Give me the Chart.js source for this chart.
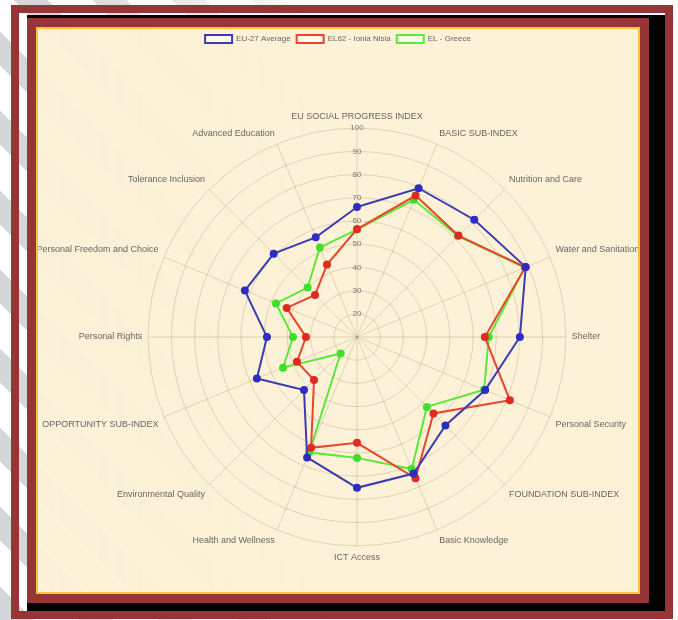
<!DOCTYPE html>
<html>
<head>
<meta charset="utf-8">
<script src="https://cdn.jsdelivr.net/npm/chart.js@4.4.1/dist/chart.umd.min.js"></script>
<style>
  body { margin: 0; width: 678px; height: 620px; background: #fff; position: relative; overflow: hidden; font-family: Arial, "Liberation Sans", sans-serif; }
  .stripes { position: absolute; left: 0; top: 0; width: 678px; height: 620px;
    background: repeating-linear-gradient(45deg, #d6d6da 0 24px, transparent 24px 56px);
    -webkit-mask-image: linear-gradient(to right, #000 0, #000 8%, transparent 50%);
    mask-image: linear-gradient(to right, #000 0, #000 8%, transparent 50%); }
  .inner .stripes { left: -38px; top: -29px; opacity: 0.06; }
  .outer { position: absolute; left: 11px; top: 5px; width: 646px; height: 598px; border: 8px solid #953535; }
  .shadow { position: absolute; left: 27px; top: 15px; width: 638px; height: 596px; background: #000; }
  .panel { position: absolute; left: 27px; top: 18px; width: 604px; height: 567px; border: 9px solid #953535; }
  .inner { position: absolute; left: 0; top: 0; width: 600px; height: 563px; border: 2px solid #f9c53a; background: #fdf2d7; overflow: hidden; }
  #wrap { position: absolute; left: -21px; top: 0; width: 642px; height: 563px; }
</style>
</head>
<body>
<div class="stripes"></div>
<div class="outer"></div>
<div class="shadow"></div>
<div class="panel"><div class="inner"><div class="stripes"></div><div id="wrap"><canvas id="graph"></canvas></div></div></div>
<script>
const categories = [
    'EU SOCIAL PROGRESS INDEX', 'BASIC SUB-INDEX', 'Nutrition and Care', 'Water and Sanitation',
    'Shelter', 'Personal Security', 'FOUNDATION SUB-INDEX', 'Basic Knowledge',
    'ICT Access', 'Health and Wellness', 'Environmental Quality', 'OPPORTUNITY SUB-INDEX',
    'Personal Rights', 'Personal Freedom and Choice', 'Tolerance Inclusion', 'Advanced Education'
];
const euAverage = [66, 79.4, 81.5, 88.7, 80.2, 69.8, 63.9, 73.7, 75, 66.2, 42.3, 56.7, 48.8, 62.3, 60.8, 56.5];
const ioniaNisia = [56.5, 76, 71.8, 88.5, 65.1, 81.3, 56.6, 75.9, 55.6, 61.7, 36.2, 38, 32, 42.8, 35.6, 43.8];
const greece = [56.3, 74, 71.5, 88.3, 66.8, 69.3, 52.6, 71.6, 62.1, 63.8, 20, 44.5, 37.6, 47.8, 40.1, 51.8];

const graphContext = document.querySelector('#graph');

const data = {
    labels: categories,
    datasets: [
        { label: 'EU-27 Average', data: euAverage, borderColor: '#3b3bb3', pointBackgroundColor: '#2d2dc0', pointBorderColor: '#2d2dc0' },
        { label: 'EL62 - Ionia Nisia', data: ioniaNisia, borderColor: '#e8452e', pointBackgroundColor: '#e02a20', pointBorderColor: '#e02a20' },
        { label: 'EL - Greece', data: greece, borderColor: '#5ee63a', pointBackgroundColor: '#3fe02a', pointBorderColor: '#3fe02a' }
    ].map(d => Object.assign(d, {
        fill: false,
        backgroundColor: 'rgba(255,255,255,0.6)',
        borderWidth: 2,
        pointRadius: 3,
        pointHoverRadius: 4
    }))
};

// extra room under the legend
const legendGap = {
    id: 'legendGap',
    beforeInit(chart) {
        const fit = chart.legend.fit;
        chart.legend.fit = function () {
            fit.bind(chart.legend)();
            this.height += 30;
        };
    }
};

new Chart(graphContext, {
    type: 'radar',
    data: data,
    plugins: [legendGap],
    options: {
        responsive: true,
        maintainAspectRatio: false,
        animation: false,
        plugins: {
            legend: {
                position: 'top',
                labels: { boxWidth: 27, boxHeight: 8, padding: 6, color: '#666', font: { size: 8 } }
            },
            tooltip: { enabled: false }
        },
        scales: {
            r: {
                min: 10,
                max: 100,
                ticks: { stepSize: 10, showLabelBackdrop: false, color: '#777', font: { size: 8 } },
                grid: { circular: true, color: 'rgba(120,100,70,0.22)' },
                angleLines: { color: 'rgba(120,100,70,0.22)' },
                pointLabels: { color: '#666', font: { size: 9 }, padding: 0 }
            }
        }
    }
});
</script>
</body>
</html>
